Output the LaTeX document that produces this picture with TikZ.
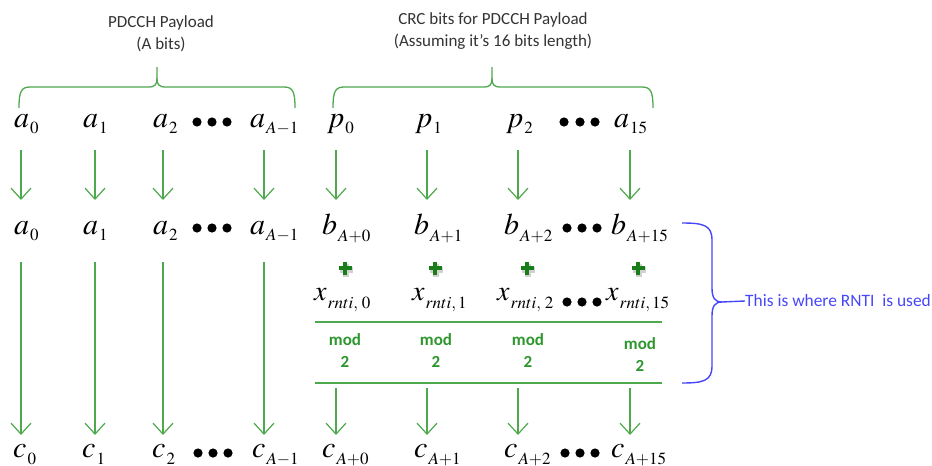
\documentclass[tikz,border=0pt]{standalone}
\usepackage{mathptmx}
\usepackage[no-math]{fontspec}
\setmainfont{Carlito}
\usetikzlibrary{arrows.meta}
\definecolor{linegreen}{RGB}{78,168,78}
\definecolor{modgreen}{RGB}{46,150,46}
\definecolor{plusgreen}{RGB}{25,125,25}
\definecolor{noteblue}{RGB}{70,70,250}
% a bit symbol: italic letter with a lowered, smaller subscript
\newcommand\bitsym[4][30]{{\fontsize{#1}{#1}\selectfont$#2$}\kern1pt\raisebox{-#4pt}{\fontsize{17}{17}\selectfont$#3$}}
\tikzset{
  sym/.style={inner sep=0pt, anchor=base west},
  arr/.style={draw=linegreen, line width=1.2pt, -{Straight Barb[length=11pt,width=20pt,line width=1.2pt]}},
  rule/.style={draw=linegreen, line width=1.3pt},
  gbrace/.style={draw=linegreen, line width=1.3pt},
  bbrace/.style={draw=noteblue, line width=1.4pt},
  title/.style={align=center, font=\fontsize{17}{22}\selectfont, text=black!80, inner sep=0pt},
  modtxt/.style={align=center, font=\fontsize{17}{22}\selectfont\bfseries, text=modgreen, inner sep=0pt},
  plusbar/.style={draw=plusgreen, line width=4pt},
  plusshade/.style={draw=black, opacity=0.18, line width=5.5pt},
  dot/.style={fill=black}
}
\begin{document}
\begin{tikzpicture}[x=1pt,y=-1pt]
\useasboundingbox (0,0) rectangle (932,466);

% headings
\node[title] (hA) at (161,34) {PDCCH Payload\\(A bits)};
\node[title] (hC) at (493,31) {CRC bits for PDCCH Payload\\(Assuming it’s 16 bits length)};

% braces over the two groups
\draw[gbrace] (19,108) .. controls (19,92) and (21,87) .. (30,87) -- (148,87)
  .. controls (155,87) and (157,85) .. (157,78) -- (157,67);
\draw[gbrace] (157,78) .. controls (157,85) and (159,87) .. (166,87) -- (284,87)
  .. controls (293,87) and (295,92) .. (295,108);
\draw[gbrace] (333,108) .. controls (333,92) and (335,87) .. (344,87) -- (483,87)
  .. controls (490,87) and (492,85) .. (492,78) -- (492,67);
\draw[gbrace] (492,78) .. controls (492,85) and (494,87) .. (501,87) -- (642,87)
  .. controls (651,87) and (653,92) .. (653,108);

% row 1: payload and CRC bits
\node[sym] (r1a0) at (14,127) {\bitsym{a}{0}{6}};
\node[sym] (r1a1) at (83,127) {\bitsym{a}{1}{6}};
\node[sym] (r1a2) at (153,127) {\bitsym{a}{2}{6}};
\node[sym] (r1aA) at (250,127) {\bitsym{a}{A{-}1}{6}};
\node[sym] (r1p0) at (327,127) {\bitsym{p}{0}{6}};
\node[sym] (r1p1) at (415,127) {\bitsym{p}{1}{6}};
\node[sym] (r1p2) at (506,127) {\bitsym{p}{2}{6}};
\node[sym] (r1a15) at (614,127) {\bitsym{a}{15}{6}};
\foreach \x in {197,212,227,564,580,595} \fill[dot] (\x,122) circle (4.6pt);

% row 2: b sequence
\node[sym] (r2a0) at (14,234) {\bitsym{a}{0}{6}};
\node[sym] (r2a1) at (83,234) {\bitsym{a}{1}{6}};
\node[sym] (r2a2) at (153,234) {\bitsym{a}{2}{6}};
\node[sym] (r2aA) at (250,234) {\bitsym{a}{A{-}1}{6}};
\node[sym] (r2b0) at (322,234) {\bitsym{b}{A{+}0}{7}};
\node[sym] (r2b1) at (414,234) {\bitsym{b}{A{+}1}{7}};
\node[sym] (r2b2) at (504,234) {\bitsym{b}{A{+}2}{7}};
\node[sym] (r2b15) at (611,234) {\bitsym{b}{A{+}15}{7}};
\foreach \x in {197,212,227,567,582,597} \fill[dot] (\x,228) circle (4.6pt);

% plus signs
\foreach \n/\x in {0/345,1/435,2/527,15/638}{
  \coordinate (pl\n) at (\x,268);
  \path[plusshade] ([shift={(1,2)}]pl\n) +(-6.5,0) -- +(6.5,0) +(0,-6.5) -- +(0,6.5);
  \path[plusbar] (pl\n) +(-6.5,0) -- +(6.5,0) +(0,-6.5) -- +(0,6.5);
}

% RNTI scrambling bits
\node[sym] (x0) at (314,300) {\bitsym[28]{x}{rnti,\,0}{8}};
\node[sym] (x1) at (412,300) {\bitsym[28]{x}{rnti,1}{8}};
\node[sym] (x2) at (497,300) {\bitsym[28]{x}{rnti,\,2}{8}};
\node[sym] (x15) at (606,300) {\bitsym[28]{x}{rnti,15}{8}};
\foreach \x in {567,582,597} \fill[dot] (\x,302) circle (4.6pt);

% modulo-2 block
\coordinate (ruleAw) at (315,322);
\coordinate (ruleAe) at (662,322);
\coordinate (ruleBw) at (315,383);
\coordinate (ruleBe) at (662,383);
\draw[rule] (ruleAw) -- (ruleAe);
\draw[rule] (ruleBw) -- (ruleBe);
\node[modtxt] (m0) at (345,351) {mod\\2};
\node[modtxt] (m1) at (436,351) {mod\\2};
\node[modtxt] (m2) at (528,351) {mod\\2};
\node[modtxt] (m15) at (640,355) {mod\\2};

% row 3: c sequence
\node[sym] (c0) at (13,457) {\bitsym{c}{0}{7}};
\node[sym] (c1) at (82,457) {\bitsym{c}{1}{7}};
\node[sym] (c2) at (152,457) {\bitsym{c}{2}{7}};
\node[sym] (cA) at (252,457) {\bitsym{c}{A{-}1}{7}};
\node[sym] (cb0) at (322,457) {\bitsym{c}{A{+}0}{7}};
\node[sym] (cb1) at (414,457) {\bitsym{c}{A{+}1}{7}};
\node[sym] (cb2) at (504,457) {\bitsym{c}{A{+}2}{7}};
\node[sym] (cb15) at (611,457) {\bitsym{c}{A{+}15}{7}};
\foreach \x in {198,213,228,565,580,595} \fill[dot] (\x,453) circle (4.6pt);

% arrow ends
\foreach \n/\x in {1/21,2/95,3/163,4/264,5/336,6/427,7/518,8/630}{
  \coordinate (ta\n) at (\x,150);
  \coordinate (ha\n) at (\x,200);
}
\foreach \n/\x in {1/21,2/95,3/163,4/264}{
  \coordinate (tb\n) at (\x,262);
  \coordinate (hb\n) at (\x,435);
}
\foreach \n/\x in {5/336,6/427,7/518,8/630}{
  \coordinate (tb\n) at (\x,388);
  \coordinate (hb\n) at (\x,435);
}
\foreach \n in {1,...,8}{
  \draw[arr] (ta\n) -- (ha\n);
  \draw[arr] (tb\n) -- (hb\n);
}

% note on where the RNTI enters
\node[anchor=west, inner sep=0pt, text=noteblue, font=\fontsize{17.4}{20}\selectfont] (note) at (745,301) {This is where RNTI\ \ is used};
\coordinate (tip) at (722,302);
\draw[bbrace] (682,223) .. controls (703,223) and (712,225) .. (712,240) -- (712,288)
  .. controls (712,298) and (715,302) .. (tip);
\draw[bbrace] (tip) .. controls (715,302) and (712,306) .. (712,316) -- (712,366)
  .. controls (712,381) and (703,383) .. (682,383);
\draw[bbrace] (tip) -- (note.west);
\end{tikzpicture}
\end{document}
